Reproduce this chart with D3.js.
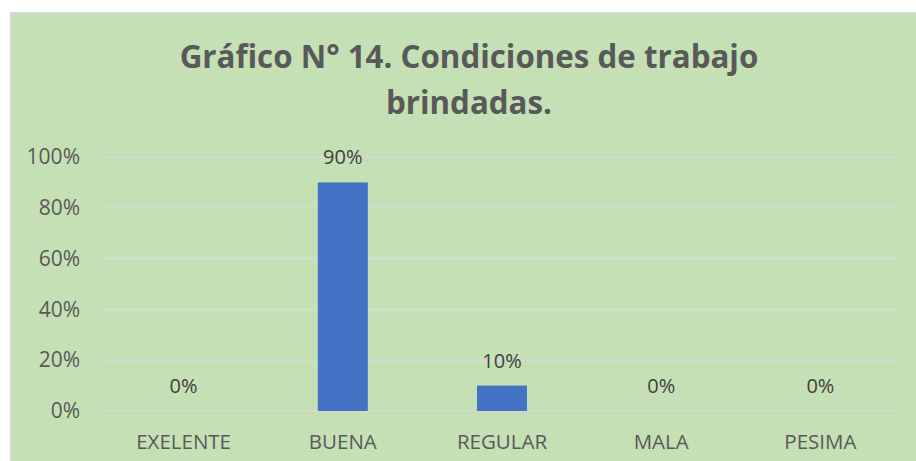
<!DOCTYPE html>
<html>
<head>
<meta charset="utf-8">
<script src="https://cdn.jsdelivr.net/npm/d3@7"></script>
<style>
  body { margin: 0; background: #ffffff; }
  svg { display: block; font-family: "Open Sans", sans-serif; }
</style>
</head>
<body>
<div id="chart"></div>
<script>
// Chart data
const categories = ['EXELENTE', 'BUENA', 'REGULAR', 'MALA', 'PESIMA'];
const values = [0, 0.90, 0.10, 0, 0];
const yTicks = [0, 0.2, 0.4, 0.6, 0.8, 1.0];
const titleLines = ['Gráfico N° 14. Condiciones de trabajo', 'brindadas.'];

const width = 916;
const height = 461;
const margin = { top: 157, right: 16, bottom: 50, left: 104 };
const innerWidth = width - margin.left - margin.right;
const innerHeight = height - margin.top - margin.bottom;

const textColor = '#595959';
const gridColor = '#D9D9D9';

const svg = d3.select('#chart')
    .append('svg')
    .attr('width', width)
    .attr('height', height);

// Chart area background, only left and top border are visible
svg.append('rect')
    .attr('x', 10)
    .attr('y', 12)
    .attr('width', width - 10)
    .attr('height', height - 12)
    .attr('fill', '#C5E0B4');

svg.append('path')
    .attr('d', `M10.75,${height}V12.75H${width}`)
    .attr('fill', 'none')
    .attr('stroke', gridColor)
    .attr('stroke-width', 1.5);

// Title
svg.append('text')
    .attr('x', 469)
    .attr('y', 68)
    .attr('text-anchor', 'middle')
    .attr('fill', textColor)
    .style('font-size', '31.3px')
    .style('font-weight', 'bold')
    .selectAll('tspan')
    .data(titleLines)
    .join('tspan')
    .attr('x', 469)
    .attr('dy', (d, i) => i === 0 ? 0 : 46)
    .text(d => d);

const g = svg.append('g')
    .attr('transform', `translate(${margin.left},${margin.top})`);

const xScale = d3.scaleBand()
    .domain(categories)
    .range([0, innerWidth])
    .paddingInner(0.686)
    .paddingOuter(0.343);

const yScale = d3.scaleLinear()
    .domain([0, 1])
    .range([innerHeight, 0]);

// Gridlines
g.append('g')
    .selectAll('line')
    .data(yTicks)
    .join('line')
    .attr('x1', 0)
    .attr('x2', innerWidth)
    .attr('y1', d => yScale(d))
    .attr('y2', d => yScale(d))
    .attr('stroke', gridColor)
    .attr('stroke-width', 1.5);

// Y axis labels
const yAxis = d3.axisLeft(yScale)
    .tickValues(yTicks)
    .tickFormat(d3.format('.0%'))
    .tickSize(0)
    .tickPadding(24);

g.append('g')
    .attr('class', 'y-axis')
    .call(yAxis)
    .call(sel => sel.select('.domain').remove())
    .selectAll('text')
    .attr('fill', textColor)
    .style('font-size', '21px')
    .style('font-family', '"Open Sans", sans-serif');

// X axis labels
const xAxis = d3.axisBottom(xScale)
    .tickSize(0)
    .tickPadding(23);

g.append('g')
    .attr('class', 'x-axis')
    .attr('transform', `translate(0,${innerHeight})`)
    .call(xAxis)
    .call(sel => sel.select('.domain').remove())
    .selectAll('text')
    .attr('fill', textColor)
    .style('font-size', '20.5px')
    .style('font-family', '"Open Sans", sans-serif');

// Bars
g.selectAll('.bar')
    .data(values)
    .join('rect')
    .attr('class', 'bar')
    .attr('x', (d, i) => xScale(categories[i]))
    .attr('y', d => yScale(d))
    .attr('width', xScale.bandwidth())
    .attr('height', d => innerHeight - yScale(d))
    .attr('fill', '#4472C4');

// Data labels
g.selectAll('.label')
    .data(values)
    .join('text')
    .attr('class', 'label')
    .attr('x', (d, i) => xScale(categories[i]) + xScale.bandwidth() / 2)
    .attr('y', d => yScale(d) - 25)
    .attr('dy', '0.35em')
    .attr('text-anchor', 'middle')
    .attr('fill', '#404040')
    .style('font-size', '20px')
    .text(d => d3.format('.0%')(d));
</script>
</body>
</html>
